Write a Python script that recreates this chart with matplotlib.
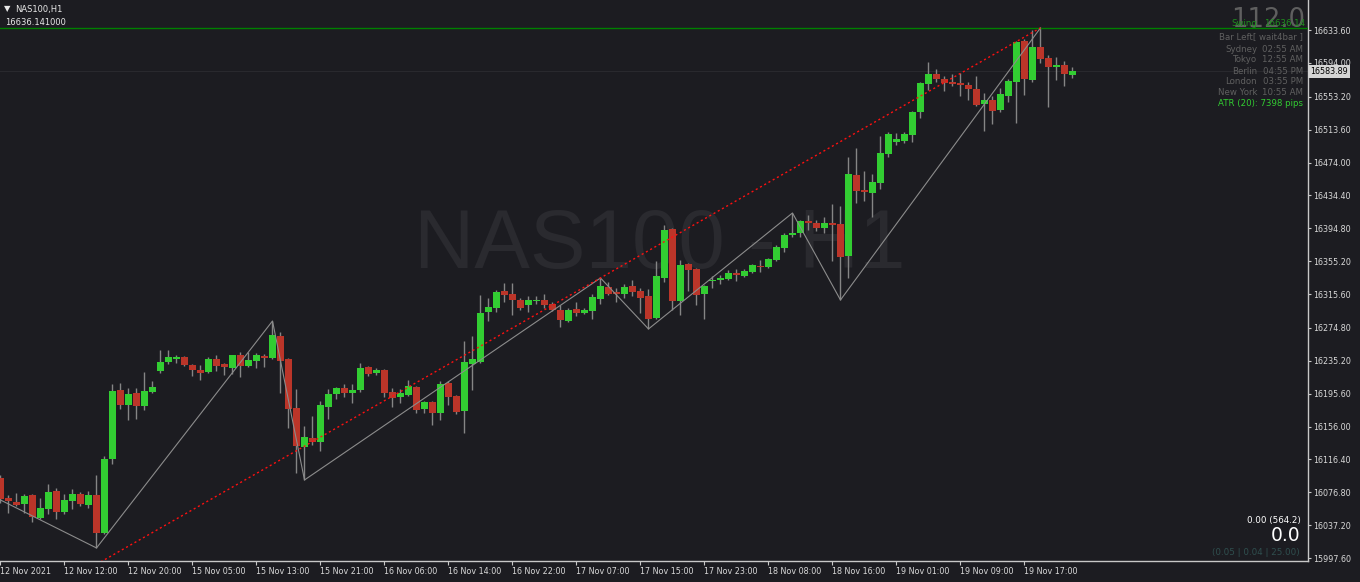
import matplotlib
matplotlib.use("Agg")
from matplotlib import pyplot as plt
import numpy as np

# NAS100 H1 candles
opens = [16094.0, 16069.9, 16065.1, 16062.7, 16073.5, 16045.8, 16056.6, 16078.3, 16053.0, 16066.3,
         16074.7, 16061.5, 16073.5, 16027.7, 16116.9, 16200.0, 16181.9, 16196.4, 16180.7, 16197.6,
         16222.9, 16233.7, 16237.3, 16239.7, 16230.1, 16224.1, 16221.7, 16237.3, 16231.3, 16226.5,
         16242.1, 16228.9, 16234.9, 16240.9, 16238.5, 16265.0, 16237.3, 16178.3, 16131.3, 16142.2,
         16137.3, 16179.5, 16195.2, 16202.4, 16196.4, 16200.0, 16227.7, 16220.5, 16224.1, 16197.6,
         16191.5, 16194.0, 16203.6, 16177.1, 16185.5, 16172.3, 16208.4, 16192.7, 16174.7, 16231.3,
         16233.7, 16293.9, 16298.7, 16319.2, 16315.6, 16308.4, 16302.4, 16307.2, 16308.4, 16303.6,
         16296.3, 16283.1, 16297.5, 16292.7, 16295.1, 16309.6, 16324.0, 16318.0, 16315.6, 16325.2,
         16319.2, 16313.2, 16286.7, 16334.9, 16393.9, 16307.2, 16351.7, 16345.7, 16315.6, 16331.3,
         16332.5, 16333.7, 16340.9, 16337.3, 16342.1, 16349.3, 16348.1, 16356.6, 16371.0, 16386.7,
         16389.1, 16403.5, 16401.1, 16395.1, 16401.1, 16399.9, 16361.4, 16459.0, 16440.9, 16437.3,
         16449.3, 16484.2, 16498.7, 16499.9, 16507.1, 16534.8, 16568.6, 16580.6, 16574.6, 16571.0,
         16569.8, 16567.4, 16562.5, 16544.5, 16549.3, 16537.2, 16554.1, 16571.0, 16620.4, 16573.4,
         16613.1, 16599.9, 16589.0, 16591.4, 16579.4]
highs = [16097.6, 16073.5, 16075.9, 16074.7, 16074.7, 16069.9, 16086.7, 16081.9, 16074.7, 16080.7,
         16077.1, 16078.3, 16097.6, 16120.5, 16207.2, 16208.4, 16202.4, 16202.4, 16221.7, 16210.8,
         16248.2, 16248.2, 16242.1, 16240.9, 16231.3, 16230.1, 16239.7, 16242.1, 16232.5, 16242.1,
         16245.7, 16245.7, 16244.5, 16243.3, 16283.1, 16269.8, 16238.5, 16201.2, 16156.6, 16168.7,
         16186.7, 16201.2, 16203.6, 16207.2, 16207.2, 16232.5, 16228.9, 16226.5, 16225.3, 16202.4,
         16201.2, 16212.0, 16204.8, 16186.7, 16186.7, 16210.8, 16210.8, 16194.0, 16259.0, 16265.0,
         16314.4, 16310.8, 16320.4, 16328.9, 16328.9, 16310.8, 16313.2, 16313.2, 16315.6, 16306.0,
         16302.4, 16298.7, 16306.0, 16298.7, 16315.6, 16334.9, 16330.1, 16322.8, 16327.7, 16332.5,
         16322.8, 16321.6, 16355.4, 16398.7, 16395.1, 16356.6, 16352.9, 16346.9, 16326.4, 16337.3,
         16338.5, 16344.5, 16345.7, 16345.7, 16351.7, 16356.6, 16359.0, 16374.6, 16389.1, 16413.2,
         16404.7, 16410.8, 16404.7, 16408.4, 16424.0, 16421.6, 16480.6, 16491.5, 16463.8, 16460.2,
         16505.9, 16510.7, 16509.5, 16510.7, 16536.0, 16571.0, 16595.1, 16586.6, 16578.2, 16580.6,
         16581.8, 16571.0, 16578.2, 16557.7, 16554.1, 16563.7, 16574.6, 16620.4, 16622.8, 16633.6,
         16636.14, 16603.5, 16601.1, 16596.3, 16589.0]
lows = [16063.9, 16051.8, 16060.2, 16051.8, 16041.0, 16044.6, 16050.6, 16044.6, 16050.6, 16056.6,
        16060.2, 16057.8, 16009.7, 16026.5, 16110.8, 16177.1, 16163.8, 16165.0, 16175.9, 16196.4,
        16220.5, 16231.3, 16232.5, 16228.9, 16216.8, 16212.0, 16220.5, 16222.9, 16218.0, 16219.2,
        16215.6, 16227.7, 16226.5, 16227.7, 16237.3, 16196.4, 16154.2, 16100.0, 16091.6, 16133.7,
        16126.5, 16165.0, 16189.1, 16191.5, 16184.3, 16197.6, 16216.8, 16218.0, 16191.5, 16179.5,
        16184.3, 16192.7, 16172.3, 16172.3, 16157.8, 16163.8, 16181.9, 16171.1, 16148.2, 16200.0,
        16232.5, 16283.1, 16293.9, 16306.0, 16290.3, 16296.3, 16293.9, 16303.6, 16298.7, 16295.1,
        16275.9, 16281.9, 16289.1, 16291.5, 16285.5, 16303.6, 16314.4, 16306.0, 16310.8, 16313.2,
        16292.7, 16273.5, 16285.5, 16330.1, 16296.3, 16290.3, 16319.2, 16302.4, 16285.5, 16322.8,
        16327.7, 16332.5, 16331.3, 16336.1, 16340.9, 16342.1, 16346.9, 16355.4, 16366.2, 16384.3,
        16384.3, 16392.7, 16391.5, 16389.1, 16355.4, 16308.4, 16334.9, 16425.2, 16427.6, 16408.4,
        16442.1, 16480.6, 16495.1, 16497.5, 16498.7, 16527.6, 16561.3, 16571.0, 16560.1, 16566.2,
        16554.1, 16549.3, 16542.1, 16512.0, 16520.4, 16534.8, 16546.9, 16521.6, 16555.3, 16571.0,
        16593.9, 16540.9, 16573.4, 16566.2, 16575.8]
closes = [16068.7, 16066.3, 16061.5, 16072.3, 16047.0, 16057.8, 16077.1, 16053.0, 16067.5, 16074.7,
          16062.7, 16073.5, 16027.7, 16116.9, 16198.8, 16181.9, 16195.2, 16180.7, 16198.8, 16203.6,
          16233.7, 16239.7, 16239.7, 16230.1, 16224.1, 16220.5, 16237.3, 16228.9, 16227.7, 16242.1,
          16228.9, 16236.1, 16242.1, 16238.5, 16266.2, 16234.9, 16177.1, 16132.5, 16143.4, 16137.3,
          16181.9, 16195.2, 16202.4, 16196.4, 16200.0, 16226.5, 16219.2, 16224.1, 16196.4, 16190.3,
          16196.4, 16204.8, 16175.9, 16185.5, 16172.3, 16207.2, 16191.5, 16173.5, 16233.7, 16237.3,
          16292.7, 16300.0, 16318.0, 16314.4, 16308.4, 16298.7, 16308.4, 16308.4, 16302.4, 16296.3,
          16284.3, 16296.3, 16292.7, 16296.3, 16312.0, 16325.2, 16315.6, 16315.6, 16324.0, 16318.0,
          16310.8, 16285.5, 16337.3, 16392.7, 16307.2, 16350.5, 16344.5, 16314.4, 16325.2, 16332.5,
          16334.9, 16340.9, 16338.5, 16343.3, 16350.5, 16348.1, 16357.8, 16372.2, 16386.7, 16389.1,
          16403.5, 16401.1, 16395.1, 16401.1, 16398.7, 16360.2, 16460.2, 16439.7, 16438.5, 16450.5,
          16485.5, 16508.3, 16502.3, 16508.3, 16534.8, 16569.8, 16580.6, 16574.6, 16569.8, 16568.6,
          16567.4, 16562.5, 16543.3, 16549.3, 16536.0, 16556.5, 16572.2, 16619.2, 16574.6, 16613.1,
          16598.7, 16589.0, 16591.4, 16580.6, 16583.89]

# zigzag swing points (bar index, price)
zz_bars = [-2, 12, 34, 38, 75, 81, 99, 105, 130]
zz_prices = [16077.1, 16009.7, 16283.1, 16091.6, 16334.9, 16273.5, 16413.2, 16308.4, 16636.14]

# dotted trend line
trend_bars = [12, 130]
trend_prices = [15990.0, 16636.14]

swing_high = 16636.14

ytick_vals = [16633.60, 16594.00, 16553.20, 16513.60, 16474.00, 16434.40, 16394.80, 16355.20, 16315.60,
              16274.80, 16235.20, 16195.60, 16156.00, 16116.40, 16076.80, 16037.20, 15997.60]
xtick_labels = ["12 Nov 2021", "12 Nov 12:00", "12 Nov 20:00", "15 Nov 05:00", "15 Nov 13:00",
                "15 Nov 21:00", "16 Nov 06:00", "16 Nov 14:00", "16 Nov 22:00", "17 Nov 07:00",
                "17 Nov 15:00", "17 Nov 23:00", "18 Nov 08:00", "18 Nov 16:00", "19 Nov 01:00",
                "19 Nov 09:00", "19 Nov 17:00"]

sessions = ["Sydney", "Tokyo", "Berlin", "London", "New York"]
session_times = ["02:55 AM", "12:55 AM", "04:55 PM", "03:55 PM", "10:55 AM"]

bg = "#1c1c21"
plt.rcParams["font.family"] = "DejaVu Sans"

fig = plt.figure(figsize=(13.6, 5.82), dpi=100, facecolor=bg)
ax = fig.add_axes([0, 21 / 582, 1308 / 1360, 561 / 582], facecolor=bg)

def px(x, y):
    return x / 1360, 1 - y / 582

# watermark
ax.text(0.5046, 1 - 268 / 561, "NAS100 - H1", transform=ax.transAxes, ha="center", va="baseline",
        fontsize=60, color="#2a2a2f", family="Liberation Sans", zorder=0)

o = np.array(opens)
h = np.array(highs)
l = np.array(lows)
c = np.array(closes)
x = np.arange(len(o))
cols = np.where(c >= o, "#32cd32", "#bb3529")

ax.vlines(x, l, h, color="#858585", lw=1, zorder=2)
ax.bar(x, np.maximum(np.abs(c - o), 1.3), width=0.85, bottom=np.minimum(o, c), color=cols, lw=0, zorder=3)

ax.axhline(c[-1], color="#29292e", lw=0.8, zorder=1)
ax.axhline(swing_high, color="#008000", lw=1.0, zorder=4)
ax.plot(zz_bars, zz_prices, color="#8c8c8c", lw=0.8, zorder=5)
ax.plot(trend_bars, trend_prices, color="#ff1010", lw=1.0, linestyle=(0, (1.5, 2)), zorder=5)

ax.set_xlim(-0.0625, 163.44)
ax.set_ylim(15994.0, 16669.74)

for s in ["left", "top"]:
    ax.spines[s].set_visible(False)
for s in ["right", "bottom"]:
    ax.spines[s].set_color("#c8c8c8")
    ax.spines[s].set_linewidth(1)

ax.yaxis.tick_right()
ax.set_yticks(ytick_vals, ["%.2f" % v for v in ytick_vals])
ax.set_xticks([8 * i for i in range(len(xtick_labels))], xtick_labels)
for lab in ax.get_xticklabels():
    lab.set_horizontalalignment("left")
ax.tick_params(axis="y", colors="#c8c8c8", labelcolor="#d8d8d8", length=2.2, width=0.8, pad=1.4, labelsize=5.8)
ax.tick_params(axis="x", colors="#c8c8c8", labelcolor="#d8d8d8", length=2.9, width=0.8, pad=1.4, labelsize=5.8)

# current price box
ax.text(1310 / 1308, c[-1], "%.2f" % c[-1], transform=ax.get_yaxis_transform(), ha="left", va="center",
        fontsize=5.8, color="black", bbox=dict(boxstyle="square,pad=0.25", fc="#d4d4d4", ec="none"))

# top-left info
fig.text(*px(3.5, 11), "\u25bc", fontsize=6, color="#e8e8e8", va="baseline")
fig.text(*px(15, 12), "NAS100,H1", fontsize=6, color="#e8e8e8", va="baseline")
fig.text(*px(5, 25), "16636.141000", fontsize=6, color="#e8e8e8", va="baseline")

# top-right panel (swing label sits over the big number, as in the terminal)
fig.text(*px(1305, 27), "112.0", fontsize=18.5, color="#5f5f5f", ha="right", va="baseline")
fig.text(*px(1231, 26), "Swing", fontsize=6.2, color="#1f8f1f", ha="left", va="baseline")
fig.text(*px(1305, 26), "%.2f" % swing_high, fontsize=6.2, color="#1f8f1f", ha="right", va="baseline")
fig.text(*px(1303, 39), "Bar Left[ wait4bar ]", fontsize=6.2, color="#606060", ha="right", va="baseline")
base = [51.5, 62.5, 73.5, 84.5, 95]
for name, t, yb in zip(sessions, session_times, base):
    fig.text(*px(1257, yb), name, fontsize=6.2, color="#606060", ha="right", va="baseline")
    fig.text(*px(1303, yb), t, fontsize=6.2, color="#606060", ha="right", va="baseline")
fig.text(*px(1303, 106), "ATR (20): 7398 pips", fontsize=6.2, color="#32cd32", ha="right", va="baseline")

# bottom-right panel
fig.text(*px(1301, 523.5), "0.00 (564.2)", fontsize=6.3, color="white", ha="right", va="baseline")
fig.text(*px(1300, 540.7), "0.0", fontsize=13.5, color="white", ha="right", va="baseline")
fig.text(*px(1300, 555), "(0.05 | 0.04 | 25.00)", fontsize=6.3, color="#2f4f4f", ha="right", va="baseline")

plt.savefig("out.png", dpi=100, facecolor=bg)
